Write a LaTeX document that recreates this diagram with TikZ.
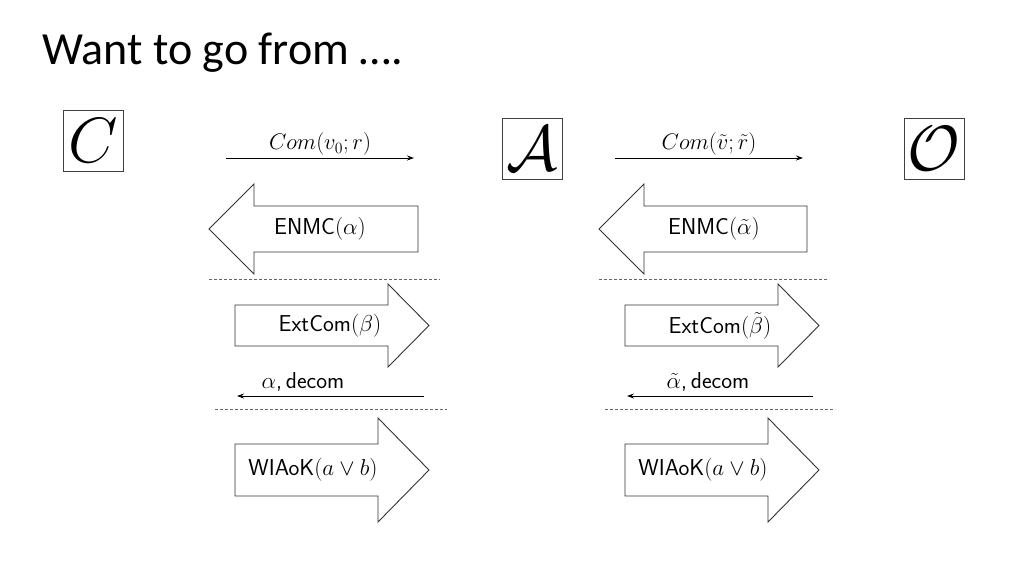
\documentclass[tikz,border=0pt]{standalone}
\usepackage{fix-cm}
\usepackage{fontspec}
\newfontfamily\titlefont{Carlito}
\usetikzlibrary{arrows.meta}
\begin{document}
\begin{tikzpicture}[x=1pt,y=-1pt,
  agent/.style={draw=black!75, line width=1pt, inner sep=0pt, minimum width=60pt, minimum height=61pt, font=\fontsize{64}{70}\selectfont},
  msg/.style={-{Stealth[length=7pt,width=5pt]}, line width=1pt},
  fat/.style={draw=black!80, line width=0.9pt, fill=white},
  sep/.style={draw=black!60, line width=0.8pt, dash pattern=on 3pt off 2pt},
  lbl/.style={font=\fontsize{23}{27}\selectfont\sffamily, inner sep=1pt},
  mlbl/.style={font=\fontsize{22.5}{26}\selectfont, inner sep=2pt, anchor=south}]
\useasboundingbox (0,0) rectangle (1024,576);
\node[anchor=base west, inner sep=0pt, font=\titlefont\fontsize{46}{52}\selectfont] (title) at (42,64) {Want to go from \dots.};

\node[agent] (C) at (93,140.5) {$C$};
\node[agent] (A) at (532.5,148.5) {$\mathcal{A}$};
\node[agent] (O) at (934,148.5) {$\mathcal{O}$};

% left column
\coordinate (c1s) at (226,158); \coordinate (c1e) at (414,158);
\draw[msg] (c1s) -- node[mlbl] (com1) {$Com(v_0;r)$} (c1e);
\draw[fat] (209,229) -- (254,184) -- (254,206) -- (418,206) -- (418,252) -- (254,252) -- (254,274) -- cycle;
\node[lbl] (enmc1) at (320,229) {ENMC$(\alpha)$};
\coordinate (d1s) at (209,279); \coordinate (d1e) at (440,279);
\draw[sep] (d1s) -- (d1e);
\draw[fat] (235,305) -- (388,305) -- (388,284) -- (429,325.5) -- (388,367) -- (388,346) -- (235,346) -- cycle;
\node[lbl] (ext1) at (330,326) {ExtCom$(\beta)$};
\coordinate (a1s) at (424,396); \coordinate (a1e) at (237,396);
\draw[msg] (a1s) -- (a1e);
\node[lbl, anchor=base] (dec1) at (303,388) {$\alpha$,\,decom};
\coordinate (d2s) at (215,409); \coordinate (d2e) at (447,409);
\draw[sep] (d2s) -- (d2e);
\draw[fat] (235,444) -- (378,444) -- (378,418) -- (429,470) -- (378,522) -- (378,496) -- (235,496) -- cycle;
\node[lbl] (wi1) at (313,470) {WIAoK$(a\vee b)$};

% right column
\coordinate (c2s) at (615,158); \coordinate (c2e) at (803,158);
\draw[msg] (c2s) -- node[mlbl] (com2) {$Com(\tilde{v};\tilde{r})$} (c2e);
\draw[fat] (599,229) -- (644,184) -- (644,206) -- (807,206) -- (807,252) -- (644,252) -- (644,274) -- cycle;
\node[lbl] (enmc2) at (714,229) {ENMC$(\tilde{\alpha})$};
\coordinate (d3s) at (599,279); \coordinate (d3e) at (829,279);
\draw[sep] (d3s) -- (d3e);
\draw[fat] (625,305) -- (778,305) -- (778,284) -- (819,325.5) -- (778,367) -- (778,346) -- (625,346) -- cycle;
\node[lbl] (ext2) at (720,326) {ExtCom$(\tilde{\beta})$};
\coordinate (a2s) at (813,396); \coordinate (a2e) at (627,396);
\draw[msg] (a2s) -- (a2e);
\node[lbl, anchor=base] (dec2) at (708,388) {$\tilde{\alpha}$,\,decom};
\coordinate (d4s) at (605,409); \coordinate (d4e) at (835,409);
\draw[sep] (d4s) -- (d4e);
\draw[fat] (625,444) -- (768,444) -- (768,418) -- (819,470) -- (768,522) -- (768,496) -- (625,496) -- cycle;
\node[lbl] (wi2) at (703,470) {WIAoK$(a\vee b)$};
\end{tikzpicture}
\end{document}
